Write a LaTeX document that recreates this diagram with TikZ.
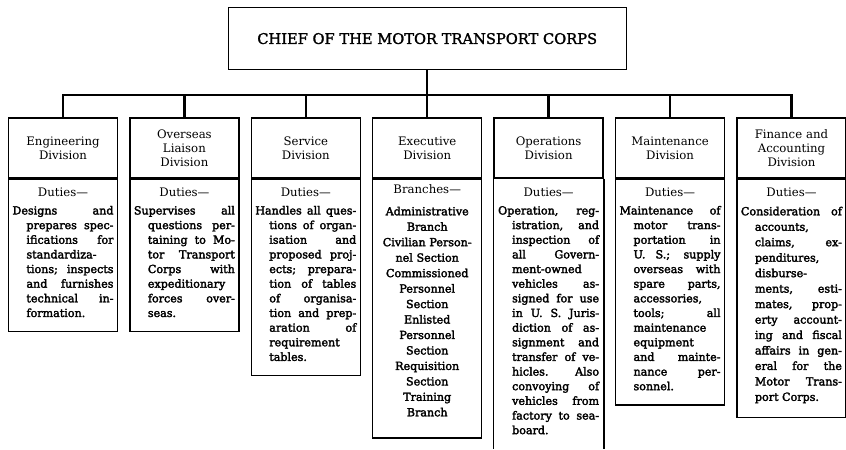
\documentclass[tikz,border=0pt]{standalone}
\usepackage{fontspec}
\setmainfont{DejaVu Serif}
\newfontfamily\bodyface{DejaVu Serif}[FakeBold=2.5]
\newfontfamily\chiefface{DejaVu Serif}[FakeBold=1.5]
\usetikzlibrary{positioning}
\newcommand\headfont{\fontsize{10}{12}\selectfont}
\newcommand\bodyfont{\bodyface\parindent=0pt\tolerance=10000\hyphenpenalty=10000}
\newcommand\bottomgap[1]{\par\vskip#1\hrule height0pt width0pt}
\newcommand\duties[2]{{\centering\normalfont\headfont\rule{0pt}{11pt}#1\par}\vspace{3pt}\hangindent=0.42cm\hangafter=1 #2\bottomgap{9pt}}
\begin{document}
\begin{tikzpicture}[node distance=0.33cm,
  head/.style={draw, line width=1.2pt, text width=3.03cm, minimum height=1.8cm, inner sep=0.12cm, align=center, font=\headfont},
  duty/.style={draw, line width=1.2pt, text width=3.03cm, inner sep=0.12cm, align=justify, font=\bodyfont\fontsize{9.5}{#1}\selectfont},
  duty/.default=12.5,
  bus/.style={line width=2pt}]
  \useasboundingbox (0,0) rectangle (25.38,13.47);
  \coordinate (floor) at (0,0);
  \node[head] (eng) at (1.89,9.03) {Engineering\\Division};
  \node[head, right=of eng] (ovs) {Overseas\\Liaison\\Division};
  \node[head, right=of ovs] (svc) {Service\\Division};
  \node[head, right=of svc] (exe) {Executive\\Division};
  \node[head, right=of exe] (ops) {Operations\\Division};
  \node[head, right=of ops] (mnt) {Maintenance\\Division};
  \node[head, right=of mnt] (fin) {Finance and\\Accounting\\Division};
  \node[draw, line width=1.2pt, minimum width=11.94cm, minimum height=1.86cm, font=\chiefface\fontsize{12.5}{14}\selectfont, above=1.41cm of exe] (chief) {CHIEF OF THE MOTOR TRANSPORT CORPS};

  \node[duty, below=0pt of eng] (engd) {\duties{Duties—}{Designs and\linebreak prepares spec-\linebreak ifications for\linebreak standardiza-\linebreak tions; inspects\linebreak and furnishes\linebreak technical in-\linebreak formation.}};
  \node[duty, below=0pt of ovs] (ovsd) {\duties{Duties—}{Supervises all\linebreak questions per-\linebreak taining to Mo-\linebreak tor Transport\linebreak Corps with\linebreak expeditionary\linebreak forces over-\linebreak seas.}};
  \node[duty, below=0pt of svc] (svcd) {\duties{Duties—}{Handles all ques-\linebreak tions of organ-\linebreak isation and\linebreak proposed proj-\linebreak ects; prepara-\linebreak tion of tables\linebreak of organisa-\linebreak tion and prep-\linebreak aration of\linebreak requirement\linebreak tables.}};
  \node[duty=13.2, align=center, below=0pt of exe] (exed) {{\normalfont\headfont\rule{0pt}{9pt}Branches—}\\[5pt] Administrative\\Branch\\Civilian Person-\\nel Section\\Commissioned\\Personnel\\Section\\Enlisted\\Personnel\\Section\\Requisition\\Section\\Training\\Branch\bottomgap{15pt}};
  \node[duty, draw=none, below=0pt of ops] (opsd) {\duties{Duties—}{Operation, reg-\linebreak istration, and\linebreak inspection of\linebreak all Govern-\linebreak ment-owned\linebreak vehicles as-\linebreak signed for use\linebreak in U. S. Juris-\linebreak diction of as-\linebreak signment and\linebreak transfer of ve-\linebreak hicles. Also\linebreak convoying of\linebreak vehicles from\linebreak factory to sea-\linebreak board.}};
  \node[duty, below=0pt of mnt] (mntd) {\duties{Duties—}{Maintenance of\linebreak motor trans-\linebreak portation in\linebreak U. S.; supply\linebreak overseas with\linebreak spare parts,\linebreak accessories,\linebreak tools; all\linebreak maintenance\linebreak equipment\linebreak and mainte-\linebreak nance per-\linebreak sonnel.}};
  \node[duty=13.2, below=0pt of fin] (find) {\duties{Duties—}{Consideration of\linebreak accounts,\linebreak claims, ex-\linebreak penditures,\linebreak disburse-\linebreak ments, esti-\linebreak mates, prop-\linebreak erty account-\linebreak ing and fiscal\linebreak affairs in gen-\linebreak eral for the\linebreak Motor Trans-\linebreak port Corps.}};
  \draw[line width=1.2pt] (opsd.north west) -- (opsd.north west |- floor);
  \draw[line width=1.2pt] (opsd.north east) -- (opsd.north east |- floor);

  \path (chief.south) ++(0,-0.75) coordinate (hub);
  \draw[bus] (chief.south) -- (hub);
  \foreach \d in {eng,ovs,svc,exe,ops,mnt,fin}
    \draw[bus] (hub) -| (\d.north);
\end{tikzpicture}
\end{document}
